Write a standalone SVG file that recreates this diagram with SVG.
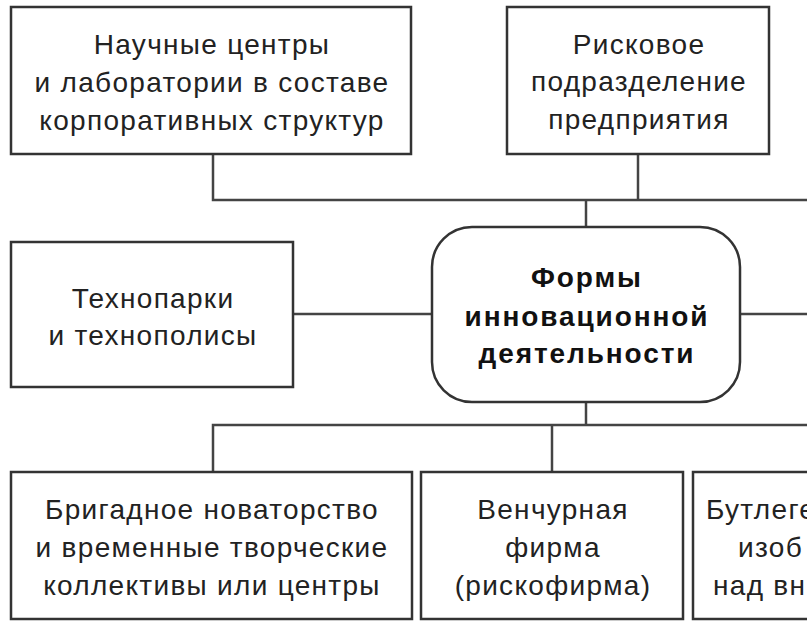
<svg xmlns="http://www.w3.org/2000/svg" width="807" height="625" viewBox="0 0 807 625">
<style>
.box{fill:#fff;stroke:#333;stroke-width:2.5}
.ln{fill:none;stroke:#444;stroke-width:2.5}
.t{font-family:"Liberation Sans",Arial,sans-serif;font-size:28px;letter-spacing:1.3px;fill:#222;text-anchor:middle}
.tl{font-family:"Liberation Sans",Arial,sans-serif;font-size:28px;letter-spacing:1.3px;fill:#222}
.b{font-family:"Liberation Sans",Arial,sans-serif;font-size:28px;letter-spacing:1.9px;font-weight:bold;fill:#111;text-anchor:middle}
</style>
<rect width="807" height="625" fill="#fff"/>
<g id="connectors">
<path class="ln" d="M213 154V200H807"/>
<path class="ln" d="M638 154V200"/>
<path class="ln" d="M586 200V228"/>
<path class="ln" d="M293 314H432"/>
<path class="ln" d="M740 314H807"/>
<path class="ln" d="M586 402V425"/>
<path class="ln" d="M213 472V425H807"/>
<path class="ln" d="M552 425V472"/>
</g>
<g id="n-science">
<rect class="box" x="11" y="7" width="400" height="147"/>
<text class="t" x="212" y="54">Научные центры</text>
<text class="t" x="212" y="92">и лаборатории в составе</text>
<text class="t" x="212" y="130">корпоративных структур</text>
</g>
<g id="n-risk">
<rect class="box" x="507" y="7" width="262" height="147"/>
<text class="t" x="639" y="54">Рисковое</text>
<text class="t" x="639" y="91">подразделение</text>
<text class="t" x="639" y="129">предприятия</text>
</g>
<g id="n-techno">
<rect class="box" x="11" y="242" width="282" height="145"/>
<text class="t" x="153" y="308">Технопарки</text>
<text class="t" x="153" y="345">и технополисы</text>
</g>
<g id="n-center">
<rect class="box" x="432" y="227" width="308" height="175" rx="40" ry="40"/>
<text class="b" x="587" y="287">Формы</text>
<text class="b" x="587" y="326">инновационной</text>
<text class="b" x="587" y="363">деятельности</text>
</g>
<g id="n-brigade">
<rect class="box" x="11" y="472" width="401" height="147"/>
<text class="t" x="212" y="519">Бригадное новаторство</text>
<text class="t" x="212" y="557">и временные творческие</text>
<text class="t" x="212" y="595">коллективы или центры</text>
</g>
<g id="n-venture">
<rect class="box" x="421" y="472" width="262" height="147"/>
<text class="t" x="553" y="519">Венчурная</text>
<text class="t" x="553" y="557">фирма</text>
<text class="t" x="553" y="595">(рискофирма)</text>
</g>
<g id="n-bootleg">
<rect class="box" x="693" y="472" width="130" height="147"/>
<text class="tl" x="706" y="519">Бутлеге</text>
<text class="tl" x="738" y="557">изоб</text>
<text class="tl" x="713" y="595">над вн</text>
</g>
</svg>
